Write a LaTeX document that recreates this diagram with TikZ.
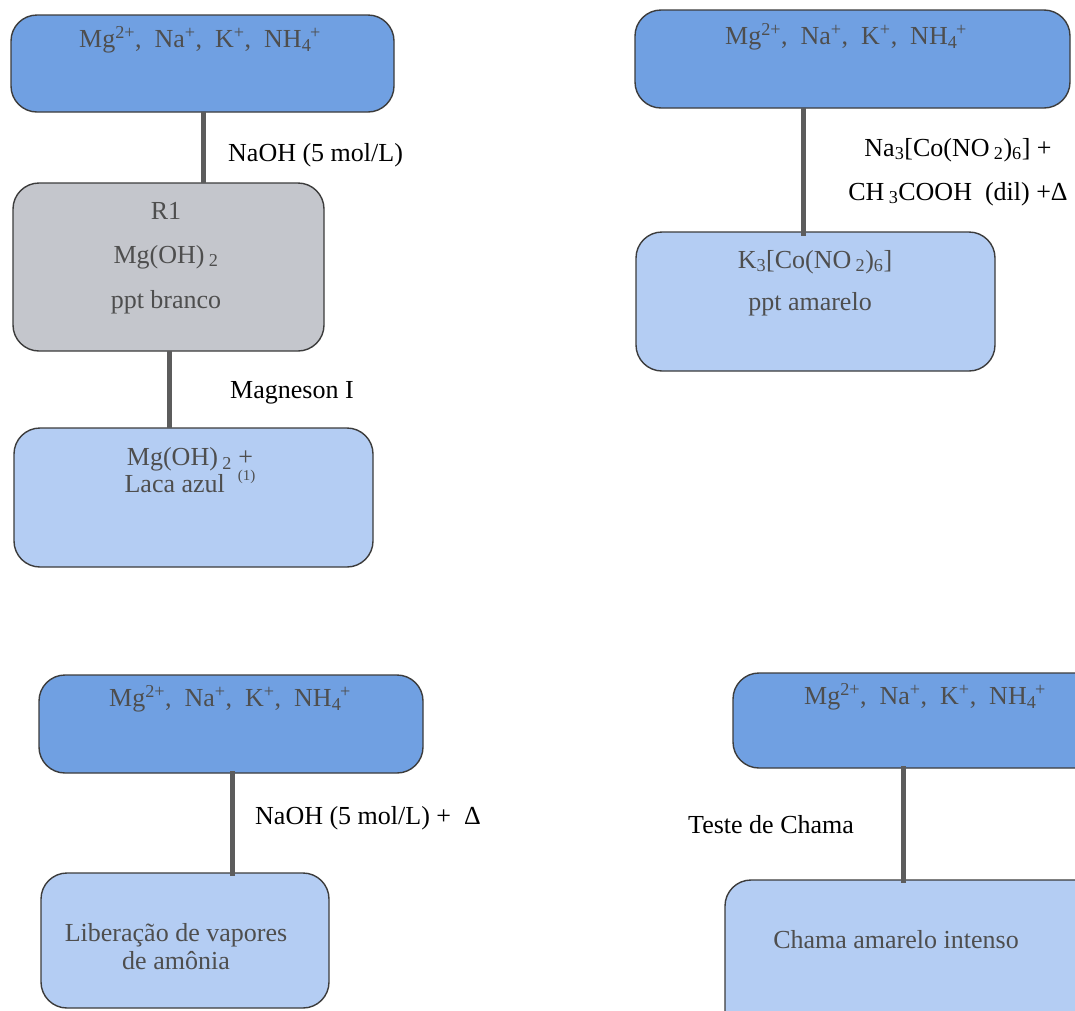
\documentclass[tikz,border=0pt]{standalone}
\usepackage{fontspec}
\setmainfont{Liberation Serif}
\definecolor{darkfill}{RGB}{112,160,226}
\definecolor{lightfill}{RGB}{180,205,243}
\definecolor{grayfill}{RGB}{196,198,204}
\definecolor{edgecol}{RGB}{60,60,60}
\definecolor{boxtextcol}{RGB}{78,78,78}
\definecolor{linkcol}{RGB}{92,92,92}
\newcommand{\ions}{Mg\textsuperscript{2+}, \ Na\textsuperscript{+}, \ K\textsuperscript{+}, \ NH\textsubscript{4}\kern-0.05em\textsuperscript{+}}
\begin{document}
\begin{tikzpicture}[x=1pt,y=-1pt,
  box/.style={draw=edgecol, line width=1.4pt, rounded corners=26pt, inner sep=0pt, outer sep=0pt},
  darkbox/.style={box, fill=darkfill},
  lightbox/.style={box, fill=lightfill},
  graybox/.style={box, fill=grayfill},
  boxtext/.style={text=boxtextcol, font=\fontsize{26}{30}\selectfont, inner sep=0pt, align=center},
  lbl/.style={text=black, font=\fontsize{26}{30}\selectfont, inner sep=0pt, anchor=west},
  link/.style={draw=linkcol, line width=5pt}]
\useasboundingbox (0,0) rectangle (1075,1010);
\clip (0,0) rectangle (1075,1010);
\fill[white] (0,0) rectangle (1075,1010);

% ---------- top-left ----------
\node[darkbox, minimum width=383, minimum height=97] (a1) at (202.5,63.5) {};
\node[boxtext] (a1t) at (200,40) {\ions};
\node[graybox, minimum width=311, minimum height=168] (a2) at (168.5,267) {};
\node[boxtext] (a2t1) at (166,211) {R1};
\node[boxtext] (a2t2) at (166,257) {Mg(OH)\,\textsubscript{2}};
\node[boxtext] (a2t3) at (166,302) {ppt branco};
\node[lightbox, minimum width=359, minimum height=139] (a3) at (193.5,497.5) {};
\node[boxtext] (a3t) at (190,470) {Mg(OH)\,\textsubscript{2} +\\[-3pt]Laca azul\ \ \raisebox{0.45em}{\fontsize{15}{15}\selectfont(1)}};
\coordinate (ca1) at (203,0);
\coordinate (ca2) at (169,0);
\draw[link] (a1.south -| ca1) -- (a2.north -| ca1);
\draw[link] (a2.south -| ca2) -- (a3.north -| ca2);
\node[lbl] (la1) at (228,155) {NaOH (5 mol/L)};
\node[lbl] (la2) at (230,393) {Magneson I};

% ---------- top-right ----------
\node[darkbox, minimum width=435, minimum height=98] (b1) at (852.5,59) {};
\node[boxtext] (b1t) at (846,37) {\ions};
\node[lightbox, minimum width=359, minimum height=139] (b2) at (815.5,301.5) {};
\node[boxtext] (b2t1) at (815,262) {K\textsubscript{3}[Co(NO\,\textsubscript{2})\textsubscript{6}]};
\node[boxtext] (b2t2) at (810,304) {ppt amarelo};
\coordinate (cb) at (803,0);
\draw[link] (b1.south -| cb) -- ([yshift=-4pt]b2.north -| cb);
\node[boxtext, text=black] (lb) at (958,172) {Na\textsubscript{3}[Co(NO\,\textsubscript{2})\textsubscript{6}] +\\[14pt]CH\,\textsubscript{3}COOH\ \ (dil) +Δ};

% ---------- bottom-left ----------
\node[darkbox, minimum width=384, minimum height=98] (c1) at (231,724) {};
\node[boxtext] (c1t) at (230,699) {\ions};
\node[lightbox, minimum width=288, minimum height=135] (c2) at (185,940.5) {};
\node[boxtext] (c2t) at (176,947) {Liberação de vapores\\[-2pt]de amônia};
\coordinate (cc) at (232,0);
\draw[link] ([yshift=2pt]c1.south -| cc) -- ([yshift=-3pt]c2.north -| cc);
\node[lbl] (lc) at (255,818) {NaOH (5 mol/L) +\ \ Δ};

% ---------- bottom-right ----------
\node[darkbox, minimum width=380, minimum height=95] (d1) at (923,720.5) {};
\node[boxtext] (d1t) at (925,697) {\ions};
\node[lightbox, minimum width=380, minimum height=160] (d2) at (915,960) {};
\node[boxtext] (d2t) at (896,940) {Chama amarelo intenso};
\coordinate (cd) at (903,0);
\draw[link] ([yshift=2pt]d1.south -| cd) -- ([yshift=-3pt]d2.north -| cd);
\node[lbl] (ld) at (688,825) {Teste de Chama};
\end{tikzpicture}
\end{document}
